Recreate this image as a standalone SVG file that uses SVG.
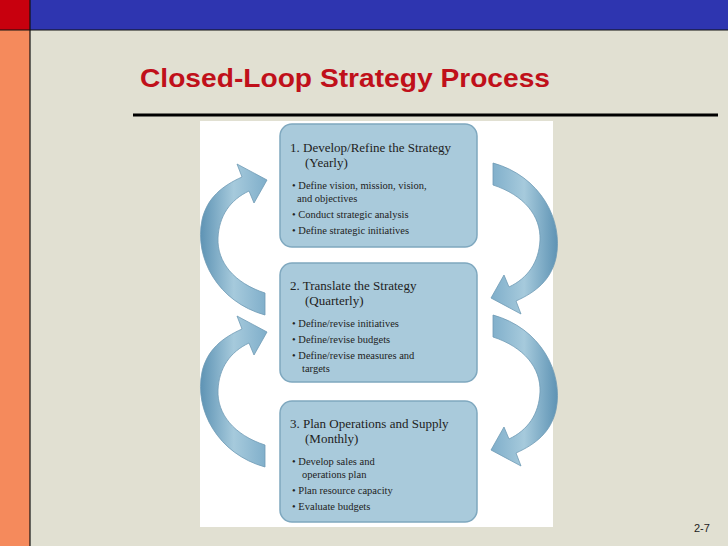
<svg xmlns="http://www.w3.org/2000/svg" width="728" height="546" viewBox="0 0 728 546">
<defs>
<linearGradient id="ag" x1="0" y1="0" x2="1" y2="0"><stop offset="0" stop-color="#5E93B4"/><stop offset="0.5" stop-color="#A6CADC"/><stop offset="1" stop-color="#7FAECA"/></linearGradient>
<path id="arr" d="M265,315 C218,302 194,258 202,220 C207,198 222,186 242,177 L237,164 L267,180 L254,203 L249,191 C230,200 219,216 218,238 C217,262 234,283 265,293 Z" fill="url(#ag)" stroke="#6E9AB5" stroke-width="0.8"/>
</defs>
<style>
.box{fill:#A9CADB;stroke:#7FA8BF;stroke-width:1.5}
.t{font-family:"Liberation Serif",serif;fill:#222;font-size:13px}
.b{font-family:"Liberation Serif",serif;fill:#222;font-size:10.5px}
</style>
<rect width="728" height="546" fill="#E1E0D2"/>
<rect x="0" y="30" width="30" height="516" fill="#F58A5C"/>
<rect x="30" y="0" width="698" height="30" fill="#2E35B0"/>
<rect x="0" y="0" width="30" height="30" fill="#C8000E"/>
<line x1="30" y1="0" x2="30" y2="546" stroke="#111" stroke-width="1.2"/>
<line x1="0" y1="30" x2="728" y2="30" stroke="#111" stroke-width="1.2"/>
<text x="140" y="87" font-family="Liberation Sans,Arial,sans-serif" font-weight="bold" font-size="26" fill="#C0101A" textLength="410" lengthAdjust="spacingAndGlyphs">Closed-Loop Strategy Process</text>
<line x1="133" y1="115" x2="718" y2="115" stroke="#000" stroke-width="3"/>
<rect x="200" y="121" width="353" height="406" fill="#FFFFFF"/>
<g id="connectors">
<use href="#arr"/>
<use href="#arr" transform="rotate(180 379 239)"/>
<use href="#arr" transform="translate(0 152)"/>
<use href="#arr" transform="translate(0 152) rotate(180 379 239)"/>
</g>
<g id="node1">
<rect class="box" x="280" y="124" width="197" height="123" rx="12"/>
<text class="t" x="290" y="152">1. Develop/Refine the Strategy</text>
<text class="t" x="305" y="167">(Yearly)</text>
<text class="b" x="292" y="189">• Define vision, mission, vision,</text>
<text class="b" x="297" y="202">and objectives</text>
<text class="b" x="292" y="218">• Conduct strategic analysis</text>
<text class="b" x="292" y="234">• Define strategic initiatives</text>
</g>
<g id="node2">
<rect class="box" x="280" y="263" width="197" height="119" rx="12"/>
<text class="t" x="290" y="290">2. Translate the Strategy</text>
<text class="t" x="305" y="305">(Quarterly)</text>
<text class="b" x="292" y="327">• Define/revise initiatives</text>
<text class="b" x="292" y="343">• Define/revise budgets</text>
<text class="b" x="292" y="359">• Define/revise measures and</text>
<text class="b" x="302" y="372">targets</text>
</g>
<g id="node3">
<rect class="box" x="280" y="401" width="197" height="121" rx="12"/>
<text class="t" x="290" y="428">3. Plan Operations and Supply</text>
<text class="t" x="305" y="443">(Monthly)</text>
<text class="b" x="292" y="465">• Develop sales and</text>
<text class="b" x="302" y="478">operations plan</text>
<text class="b" x="292" y="494">• Plan resource capacity</text>
<text class="b" x="292" y="510">• Evaluate budgets</text>
</g>
<text x="694" y="532" font-family="Liberation Sans,Arial,sans-serif" font-size="11" fill="#222">2-7</text>
</svg>
